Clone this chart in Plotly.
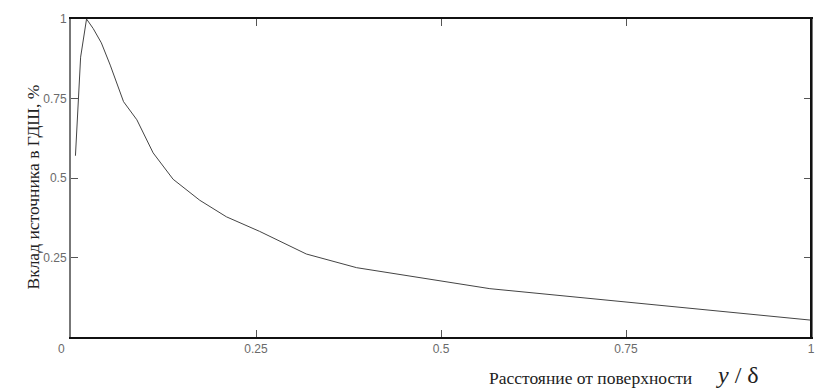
import plotly.graph_objects as go

# Data
x_vals = [0.006, 0.013, 0.021, 0.030, 0.041, 0.053, 0.071, 0.089, 0.111, 0.138,
          0.174, 0.210, 0.255, 0.318, 0.386, 0.566, 1.0]
y_vals = [0.57, 0.88, 1.0, 0.97, 0.925, 0.855, 0.74, 0.683, 0.579, 0.496,
          0.43, 0.378, 0.332, 0.261, 0.218, 0.152, 0.053]

x_ticks = [0.25, 0.5, 0.75, 1]
x_tick_text = ["0.25", "0.5", "0.75", "1"]
y_ticks = [0.25, 0.5, 0.75, 1]
y_tick_text = ["0.25", "0.5", "0.75", "1"]

y_title = "Вклад источника в ГДШ, %"
x_title = "Расстояние от поверхности"
x_symbol = "<i>y</i> / δ"

SERIF = "'Liberation Serif', 'Times New Roman', serif"

fig = go.Figure()
fig.add_trace(go.Scatter(x=x_vals, y=y_vals, mode="lines",
                         line=dict(color="#444444", width=1),
                         showlegend=False, hoverinfo="skip"))

tick_font = dict(family="'Liberation Sans', Arial, sans-serif", size=12, color="#6a6a6a")

fig.update_layout(
    width=830, height=390,
    margin=dict(l=71, r=19, t=17, b=53),
    paper_bgcolor="white", plot_bgcolor="white",
    xaxis=dict(range=[0, 1], tickvals=x_ticks, ticktext=x_tick_text,
               showgrid=False, zeroline=False, showline=True, linecolor="#111111",
               linewidth=2, mirror="ticks", ticks="inside", ticklen=7, tickwidth=1,
               tickcolor="#555555", tickfont=tick_font),
    yaxis=dict(range=[0, 1], tickvals=y_ticks, ticktext=y_tick_text,
               showgrid=False, zeroline=False, showline=True, linecolor="#777777",
               linewidth=2, mirror="ticks", ticks="inside", ticklen=7, tickwidth=1,
               tickcolor="#555555", tickfont=tick_font),
)

# right border in black
fig.add_shape(type="line", xref="paper", yref="paper", x0=1, x1=1, y0=0, y1=1,
              line=dict(color="#111111", width=2))

fig.add_annotation(text="0", xref="paper", yref="paper", x=0, y=0,
                   xanchor="right", yanchor="top", xshift=-4, yshift=-3,
                   showarrow=False, font=tick_font)

fig.add_annotation(text=y_title, xref="paper", yref="paper", x=0, y=0.47,
                   xanchor="center", yanchor="middle", xshift=-38, textangle=-90,
                   showarrow=False,
                   font=dict(family=SERIF, size=17.5, color="#222222"))

fig.add_annotation(text=x_title, xref="paper", yref="paper", x=0.702, y=0,
                   xanchor="center", yanchor="middle", yshift=-41,
                   showarrow=False,
                   font=dict(family=SERIF, size=17.5, color="#222222"))

fig.add_annotation(text=x_symbol, xref="paper", yref="paper", x=0.9, y=0,
                   xanchor="center", yanchor="middle", yshift=-38,
                   showarrow=False,
                   font=dict(family=SERIF, size=24, color="#222222"))

fig.write_html("out.html")
